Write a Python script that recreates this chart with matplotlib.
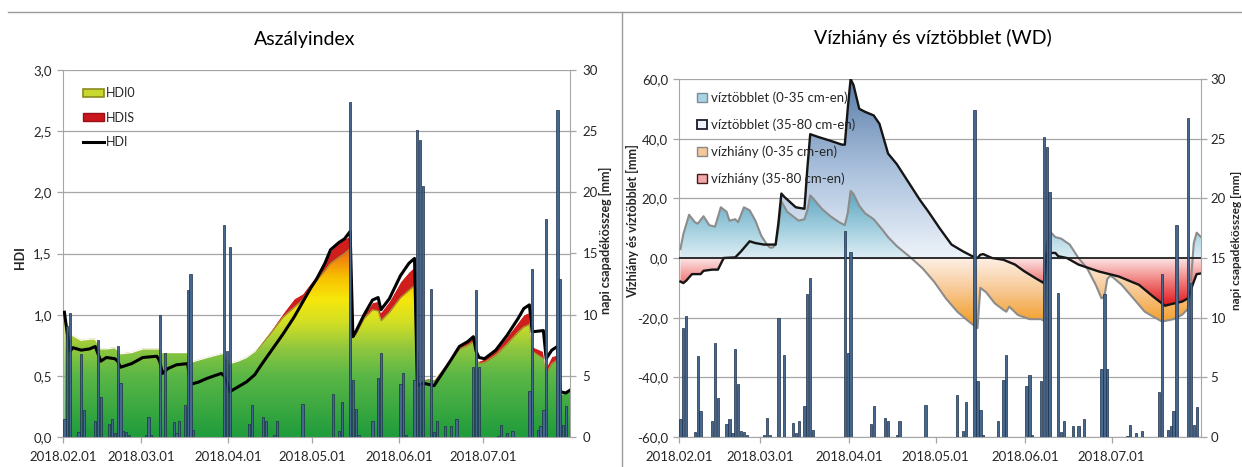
import numpy as np
import matplotlib
matplotlib.use("Agg")
import matplotlib.pyplot as plt
from matplotlib.colors import LinearSegmentedColormap
from matplotlib.path import Path
from matplotlib.patches import Patch
from matplotlib.lines import Line2D
from matplotlib.ticker import FuncFormatter, MultipleLocator

plt.rcParams["font.family"] = ["Lato", "DejaVu Sans"]

W, H = 1242, 467
START = np.datetime64("2018-02-01")
END = np.datetime64("2018-08-01")
MONTH_STARTS = ["2018-02-01", "2018-03-01", "2018-04-01", "2018-05-01", "2018-06-01", "2018-07-01"]
MONTH_LABELS = ["2018.02.01", "2018.03.01", "2018.04.01", "2018.05.01", "2018.06.01", "2018.07.01"]

# napi csapadék (nap sorszáma 2018.02.01-től, mm)
rain_day = [0, 1, 2, 5, 6, 7, 11, 12, 13, 16, 17, 18, 19, 20, 21, 22, 23, 29, 30, 31,
            34, 36, 39, 40, 41, 43, 44, 45, 46, 57, 58, 59, 66, 67, 71, 72, 75, 76, 85,
            96, 98, 99, 102, 103, 104, 105, 110, 112, 113, 120, 121, 122, 125, 126, 127,
            128, 131, 132, 133, 136, 138, 140, 146, 147, 148, 155, 156, 158, 160, 166,
            167, 169, 170, 171, 172, 176, 177, 178, 179]
rain_mm = [1.5, 9.1, 10.1, 0.4, 6.8, 2.2, 1.3, 7.9, 3.3, 1.1, 1.5, 0.3, 7.4, 4.4, 0.5, 0.4, 0.15, 0.2, 1.6, 0.15,
           10.0, 6.9, 1.2, 0.3, 1.3, 2.6, 12.0, 13.3, 0.6, 17.3, 7.0, 15.5, 1.1, 2.6, 1.6, 1.3, 0.2, 1.3, 2.7,
           3.5, 0.5, 2.9, 27.4, 4.7, 2.3, 0.15, 1.3, 4.8, 6.9, 4.3, 5.2, 0.15, 4.7, 25.1, 24.3,
           20.5, 12.1, 0.4, 1.3, 0.9, 0.9, 1.5, 5.7, 12.0, 5.7, 0.1, 1.0, 0.3, 0.5, 3.8,
           13.7, 0.6, 0.9, 2.2, 17.8, 26.7, 12.9, 1.0, 2.5]

# aszályindex
hdi_day = [0, 1, 2, 3, 6, 9, 11, 12, 13, 15, 18, 19, 20, 24, 28, 33, 34, 35, 37, 40,
           44, 45, 48, 51, 56, 57, 58, 59, 62, 65, 68, 70, 74, 78, 82, 85, 88, 90, 93, 95,
           98, 100, 101, 102, 103, 104, 107, 110, 112, 113, 116, 120, 123, 125, 126, 128, 130, 132, 134, 138,
           141, 144, 146, 147, 148, 150, 154, 158, 162, 164, 166, 167, 171, 172, 174, 176, 177, 179, 181]
hdi0 = [0.97, 0.90, 0.82, 0.83, 0.79, 0.80, 0.80, 0.76, 0.72, 0.72, 0.73, 0.71, 0.68, 0.69, 0.72, 0.72, 0.72, 0.69, 0.69, 0.69,
        0.69, 0.61, 0.63, 0.65, 0.68, 0.68, 0.64, 0.60, 0.62, 0.65, 0.70, 0.75, 0.86, 0.98, 1.06, 1.12, 1.22, 1.28, 1.36, 1.42,
        1.47, 1.50, 1.52, 1.54, 0.82, 0.84, 0.97, 1.04, 1.03, 0.95, 1.02, 1.14, 1.20, 1.24, 0.40, 0.46, 0.47, 0.46, 0.52, 0.63,
        0.72, 0.75, 0.78, 0.70, 0.60, 0.61, 0.67, 0.76, 0.86, 0.90, 0.92, 0.70, 0.64, 0.52, 0.60, 0.63, 0.35, 0.36, 0.38]
hdis = [0, 0, 0, 0, 0, 0, 0, 0, 0, 0, 0, 0, 0, 0, 0, 0, 0, 0, 0, 0,
        0, 0, 0, 0, 0, 0, 0, 0, 0, 0, 0, 0.01, 0.02, 0.03, 0.07, 0.05, 0.04, 0.04, 0.07, 0.10,
        0.12, 0.12, 0.11, 0.10, 0.0, 0.01, 0.03, 0.06, 0.08, 0.07, 0.09, 0.13, 0.15, 0.15, 0.0, 0.01, 0.01, 0.01, 0.01, 0.02,
        0.02, 0.03, 0.03, 0.02, 0.02, 0.03, 0.04, 0.06, 0.08, 0.10, 0.10, 0.04, 0.06, 0.05, 0.06, 0.04, 0.0, 0.0, 0.0]
hdi = [1.02, 0.85, 0.70, 0.73, 0.71, 0.72, 0.74, 0.68, 0.62, 0.65, 0.64, 0.62, 0.57, 0.60, 0.65, 0.66, 0.62, 0.52, 0.56, 0.59,
       0.60, 0.43, 0.45, 0.48, 0.52, 0.50, 0.45, 0.37, 0.41, 0.45, 0.51, 0.58, 0.71, 0.84, 0.98, 1.10, 1.22, 1.29, 1.42, 1.53,
       1.59, 1.62, 1.65, 1.68, 0.82, 0.86, 1.00, 1.12, 1.14, 1.04, 1.13, 1.32, 1.42, 1.46, 0.42, 0.44, 0.43, 0.42, 0.49, 0.63,
       0.74, 0.78, 0.82, 0.70, 0.65, 0.64, 0.71, 0.83, 0.97, 1.05, 1.08, 0.86, 0.87, 0.64, 0.71, 0.74, 0.37, 0.36, 0.39]

# vízhiány / víztöbblet 0-35 cm
wd1_day = [0, 1, 3, 5, 6, 8, 10, 12, 14, 16, 17, 19, 20, 22, 24, 26, 28, 30, 31, 32,
           33, 34, 35, 37, 39, 41, 43, 44, 45, 46, 49, 52, 55, 57, 58, 59, 60, 62, 64, 67,
           70, 72, 75, 80, 84, 88, 92, 96, 100, 103, 104, 106, 109, 112, 113, 114, 117, 121, 125, 126,
           127, 128, 130, 132, 135, 138, 141, 144, 146, 147, 148, 149, 150, 153, 157, 161, 164, 167, 171, 174,
           176, 177, 178, 179, 181]
wd_0_35 = [3.0, 8.0, 14.5, 12.0, 11.5, 14.0, 11.0, 10.5, 17.0, 15.5, 12.5, 13.0, 12.0, 17.0, 16.0, 12.5, 7.5, 4.5, 3.5, 3.5,
           4.5, 10.0, 19.0, 15.5, 14.0, 12.5, 13.0, 16.0, 21.0, 20.0, 16.5, 14.0, 12.0, 11.0, 15.0, 22.5, 21.5, 17.5, 15.0, 13.0,
           9.5, 7.0, 4.0, 0.0, -3.5, -8.0, -13.5, -18.0, -21.3, -23.5, -10.0, -11.5, -15.2, -17.4, -18.0, -16.3, -19.1, -20.5, -20.5, -21.0,
           4.0, 9.0, 7.0, 6.5, 4.5, 0.0, -3.4, -9.0, -13.5, -13.0, -7.0, -6.0, -6.5, -9.0, -13.5, -18.0, -19.7, -21.3, -20.5, -19.0,
           -17.0, -8.0, 5.0, 8.5, 6.5]

# vízhiány / víztöbblet 35-80 cm
wd2_day = [0, 1, 2, 4, 7, 8, 11, 13, 15, 19, 21, 24, 26, 29, 33, 34, 35, 36, 40, 43,
           44, 45, 48, 52, 56, 57, 58, 59, 60, 62, 64, 67, 69, 72, 75, 79, 83, 86, 90, 94,
           98, 102, 103, 104, 105, 108, 112, 116, 119, 123, 126, 127, 128, 130, 131, 134, 138, 145, 152, 159,
           164, 168, 170, 174, 176, 178, 179, 181]
wd_35_80 = [-7.9, -8.4, -7.6, -5.4, -5.4, -4.3, -3.9, -3.9, 0.0, 0.2, 2.2, 5.6, 5.0, 4.5, 4.5, 12.0, 21.6, 20.5, 17.0, 16.5,
            30.0, 41.5, 40.5, 39.3, 38.0, 38.0, 50.0, 60.0, 58.0, 50.0, 49.0, 47.8, 45.0, 35.0, 31.5, 25.5, 19.5, 15.5, 9.8, 4.5,
            2.2, 0.2, 0.0, 1.1, 1.3, 0.0, -0.6, -2.2, -4.3, -6.7, -8.4, 1.5, 1.7, 1.7, 0.6, 0.0, -2.2, -4.5, -6.2, -9.0,
            -13.0, -16.0, -15.5, -14.6, -13.5, -7.9, -5.4, -5.1]

GRID = "#a6a6a6"
TXT = "#262626"

hdi_cmap = LinearSegmentedColormap.from_list("hdi", [
    (0.0, "#1f9c3c"), (0.30, "#5cb746"), (0.42, "#8ec63f"), (0.55, "#d2df24"),
    (0.66, "#f6e70c"), (0.77, "#f8c100"), (0.87, "#ef7d12"), (1.0, "#d82a14")])
blue_cmap = LinearSegmentedColormap.from_list("b", ["#eef3fa", "#a9c0dc", "#5a7ca8"])
teal_cmap = LinearSegmentedColormap.from_list("t", ["#dcedf4", "#9ccbdc", "#5fa6c0"])
orange_cmap = LinearSegmentedColormap.from_list("o", ["#f29a1c", "#f7c58d", "#fdf0e6"])
red_cmap = LinearSegmentedColormap.from_list("r", ["#e0161b", "#f07a78", "#fbe4e4"])


def xpos(days):
    return np.asarray(days, dtype=float) + 0.5


def gradient_fill(ax, x, y1, y2, cmap, lo, hi, ext, zorder):
    poly = ax.fill_between(x, y1, y2, facecolor="none", edgecolor="none")
    path = Path.make_compound_path(*poly.get_paths())
    grad = np.linspace(ext[0], ext[1], 400).reshape(-1, 1)
    im = ax.imshow(grad, cmap=cmap, vmin=lo, vmax=hi, aspect="auto", origin="lower",
                   extent=[0, ndays, ext[0], ext[1]], zorder=zorder, interpolation="bilinear")
    im.set_clip_path(path, transform=ax.transData)
    return im


def comma(fmt):
    return FuncFormatter(lambda v, p: (fmt % v).replace(".", ","))


def style(ax, ax2, ylo, yhi, ystep, yfmt, rpad):
    ax.set_xlim(0, ndays)
    ax.set_ylim(ylo, yhi)
    ax.yaxis.set_major_locator(MultipleLocator(ystep))
    ax.yaxis.set_major_formatter(comma(yfmt))
    ax.set_xticks(month_pos)
    ax.set_xticklabels(MONTH_LABELS)
    ax.set_axisbelow(True)
    ax.yaxis.grid(True, color=GRID, lw=0.9)
    ax2.set_ylim(0, 30)
    ax2.yaxis.set_major_locator(MultipleLocator(5))
    for a in (ax, ax2):
        for s in a.spines.values():
            s.set_visible(False)
        a.tick_params(colors=GRID, labelcolor=TXT, length=4, width=0.9, labelsize=9.5)
    ax.spines["left"].set_visible(True)
    ax.spines["left"].set_color(GRID)
    ax.spines["bottom"].set_visible(True)
    ax.spines["bottom"].set_color(GRID)
    ax2.spines["right"].set_visible(True)
    ax2.spines["right"].set_color(GRID)
    ax.tick_params(axis="x", pad=6, labelsize=9.5)
    ax.tick_params(axis="y", pad=4)
    ax2.tick_params(axis="y", pad=rpad)


ndays = int((END - START).astype(int))
month_pos = (np.array(MONTH_STARTS, dtype="datetime64[D]") - START).astype(int)

fig = plt.figure(figsize=(W / 100, H / 100), dpi=100)

# ---- Aszályindex ----
axL = fig.add_axes([63 / W, 1 - 437 / H, 507 / W, 367 / H])
xh = xpos(hdi_day)
hdi0_a = np.array(hdi0)
hdi_top = hdi0_a + np.array(hdis)
gradient_fill(axL, xh, 0, hdi0_a, hdi_cmap, 0, 1.7, (0, 3), 2)
axL.fill_between(xh, hdi0_a, hdi_top, color="#cf1f1c", lw=0, zorder=3)
axL.plot(xh, hdi0_a, color="#a3a03a", lw=0.8, zorder=3)
axL.plot(xh, hdi_top, color="white", lw=0.9, zorder=3.5)
axL.plot(xh, hdi, color="black", lw=2.2, zorder=4)
axL2 = axL.twinx()
axL2.bar(xpos(rain_day), rain_mm, width=0.8, color="#46688f", edgecolor="#1b2f4a", linewidth=0.5)
style(axL, axL2, 0, 3, 0.5, "%.1f", 5)

legL = axL.legend(
    handles=[Patch(facecolor="#c9d82e", edgecolor="#8c8a1e", lw=1.2),
             Patch(facecolor="#c9161d", edgecolor="#9a1016", lw=1.0),
             Line2D([], [], color="black", lw=2.2)],
    labels=["HDI0", "HDIS", "HDI"], loc="upper left", bbox_to_anchor=(0.02, 0.98),
    frameon=False, fontsize=9, handlelength=1.7, handleheight=0.6, handletextpad=0.15,
    labelspacing=1.0, borderpad=0.3)
for t in legL.get_texts():
    t.set_color(TXT)

# ---- Vízhiány és víztöbblet ----
axR = fig.add_axes([679 / W, 1 - 437 / H, 522 / W, 358 / H])
x1 = xpos(wd1_day)
x2 = xpos(wd2_day)
gradient_fill(axR, x2, 0, wd_35_80, blue_cmap, 0, 60, (0, 60), 2)
gradient_fill(axR, x1, 0, wd_0_35, teal_cmap, 0, 22, (0, 60), 2.2)
gradient_fill(axR, x1, 0, wd_0_35, orange_cmap, -23, 0, (-60, 0), 2.4)
gradient_fill(axR, x2, 0, wd_35_80, red_cmap, -16, 0, (-60, 0), 2.6)
axR.plot(x1, wd_0_35, color="#8c8c8c", lw=1.5, zorder=3)
axR.plot(x2, wd_35_80, color="#151515", lw=1.7, zorder=3.2)
axR.axhline(0, color="#202020", lw=1.3, zorder=3.4)
axR2 = axR.twinx()
axR2.bar(xpos(rain_day), rain_mm, width=0.8, color="#46688f", edgecolor="#1b2f4a", linewidth=0.5)
style(axR, axR2, -60, 60, 20, "%.1f", 3)

legR = axR.legend(
    handles=[Patch(facecolor="#a9d3e3", edgecolor="#7c8c96", lw=1.0),
             Patch(facecolor="#eef2f8", edgecolor="#1a1a2e", lw=1.3),
             Patch(facecolor="#f4c89a", edgecolor="#8a8a8a", lw=1.0),
             Patch(facecolor="#f0a8a8", edgecolor="#4a1a1a", lw=1.0)],
    labels=["víztöbblet (0-35 cm-en)", "víztöbblet (35-80 cm-en)",
            "vízhiány (0-35 cm-en)", "vízhiány (35-80 cm-en)"],
    loc="upper left", bbox_to_anchor=(0.015, 0.995), frameon=False, fontsize=9.5,
    handlelength=0.7, handleheight=0.7, handletextpad=0.35, labelspacing=1.1, borderpad=0.3)
for t in legR.get_texts():
    t.set_color(TXT)

# ---- titles, axis labels, frame lines ----
fig.text(305 / W, 1 - 40 / H, "Aszályindex", fontsize=14, ha="center", va="center", color="black")
fig.text(933 / W, 1 - 38 / H, "Vízhiány és víztöbblet (WD)", fontsize=14, ha="center", va="center", color="black")
fig.text(20 / W, 1 - 258 / H, "HDI", rotation=90, fontsize=9, fontweight="bold", ha="center", va="center", color=TXT)
fig.text(605 / W, 1 - 240 / H, "napi csapadékösszeg [mm]", rotation=90, fontsize=9, fontweight="bold",
         ha="center", va="center", color=TXT)
fig.text(633 / W, 1 - 221 / H, "Vízhiány és víztöbblet [mm]", rotation=90, fontsize=9, fontweight="bold",
         ha="center", va="center", color=TXT)
fig.text(1236 / W, 1 - 240 / H, "napi csapadékösszeg [mm]", rotation=90, fontsize=8.5, fontweight="bold",
         ha="center", va="center", color=TXT)
fig.add_artist(Line2D([8 / W, 1], [1 - 12 / H, 1 - 12 / H], transform=fig.transFigure, color="#9a9a9a", lw=1.0))
fig.add_artist(Line2D([622 / W, 622 / W], [0, 1 - 12 / H], transform=fig.transFigure, color="#9a9a9a", lw=1.0))

fig.savefig("out.png", dpi=100)
